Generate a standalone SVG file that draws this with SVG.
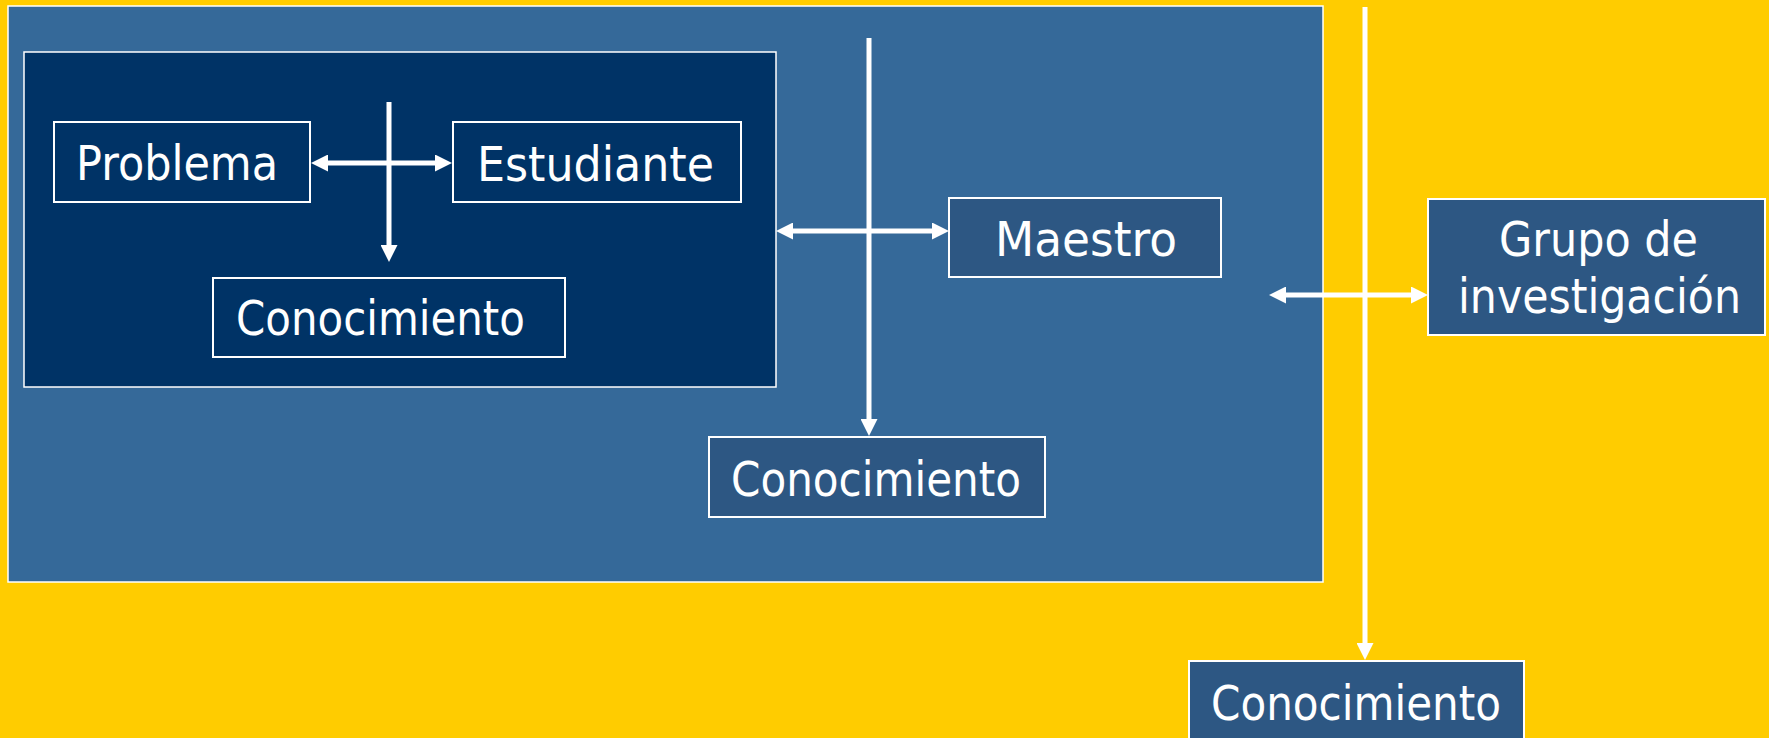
<svg xmlns="http://www.w3.org/2000/svg" width="1769" height="738" viewBox="0 0 1769 738">
<style>
.lbl{font-family:"DejaVu Sans","Liberation Sans",sans-serif;font-size:48px;fill:#ffffff}
.node{fill:#2d5783;stroke:#ffffff;stroke-width:2}
.inner{fill:#003366;stroke:#ffffff;stroke-width:2}
.conn{stroke:#ffffff;stroke-width:5;fill:none}
</style>
<defs>
<marker id="ah" viewBox="0 0 17 17" markerWidth="17" markerHeight="17" refX="0" refY="8.5" orient="auto-start-reverse" markerUnits="userSpaceOnUse">
<path d="M0,0 L17,8.5 L0,17 Z" fill="#ffffff"/>
</marker>
</defs>
<rect x="0" y="0" width="1769" height="738" fill="#ffcc00"/>
<g id="outer">
<rect x="8" y="6" width="1315" height="576" fill="#356999" stroke="#ffffff" stroke-width="1.5"/>
</g>
<g id="inner-box">
<rect x="24" y="52" width="752" height="335" fill="#003366" stroke="#ffffff" stroke-width="1.5"/>
</g>
<g id="problema">
<rect class="inner" x="54" y="122" width="256" height="80"/>
<text class="lbl" x="76" y="180" textLength="202" lengthAdjust="spacingAndGlyphs">Problema</text>
</g>
<g id="estudiante">
<rect class="inner" x="453" y="122" width="288" height="80"/>
<text class="lbl" x="477" y="181" textLength="237" lengthAdjust="spacingAndGlyphs">Estudiante</text>
</g>
<g id="conocimiento1">
<rect class="inner" x="213" y="278" width="352" height="79"/>
<text class="lbl" x="236" y="335" textLength="289" lengthAdjust="spacingAndGlyphs">Conocimiento</text>
</g>
<g id="maestro">
<rect class="node" x="949" y="198" width="272" height="79"/>
<text class="lbl" x="995" y="256" textLength="182" lengthAdjust="spacingAndGlyphs">Maestro</text>
</g>
<g id="conocimiento2">
<rect class="node" x="709" y="437" width="336" height="80"/>
<text class="lbl" x="731" y="496" textLength="290" lengthAdjust="spacingAndGlyphs">Conocimiento</text>
</g>
<g id="grupo">
<rect class="node" x="1428" y="199" width="337" height="136"/>
<text class="lbl" x="1499" y="256" textLength="199" lengthAdjust="spacingAndGlyphs">Grupo de</text>
<text class="lbl" x="1458" y="313" textLength="283" lengthAdjust="spacingAndGlyphs">investigación</text>
</g>
<g id="conocimiento3">
<rect class="node" x="1189" y="661" width="335" height="90"/>
<text class="lbl" x="1211" y="720" textLength="290" lengthAdjust="spacingAndGlyphs">Conocimiento</text>
</g>
<g id="connectors">
<line class="conn" x1="328" y1="163" x2="435" y2="163" marker-start="url(#ah)" marker-end="url(#ah)"/>
<line class="conn" x1="389" y1="102" x2="389" y2="245" marker-end="url(#ah)"/>
<line class="conn" x1="793" y1="231" x2="932" y2="231" marker-start="url(#ah)" marker-end="url(#ah)"/>
<line class="conn" x1="869" y1="38" x2="869" y2="419" marker-end="url(#ah)"/>
<line class="conn" x1="1286" y1="295" x2="1411" y2="295" marker-start="url(#ah)" marker-end="url(#ah)"/>
<line class="conn" x1="1365" y1="7" x2="1365" y2="643" marker-end="url(#ah)"/>
</g>
</svg>
